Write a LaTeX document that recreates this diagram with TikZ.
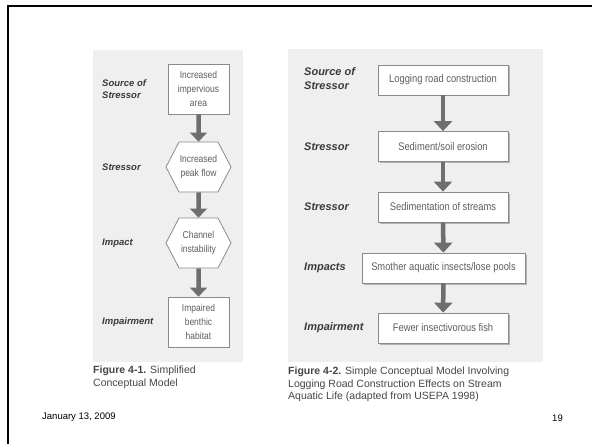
\documentclass[tikz,border=0pt]{standalone}
\usepackage{fontspec}
\setmainfont{Liberation Sans}
\newfontfamily\condfont[FakeStretch=0.85]{Liberation Sans}
\usetikzlibrary{arrows.meta,shapes.symbols,shadows}
\definecolor{panelgray}{HTML}{EFEFEF}
\definecolor{edgegray}{HTML}{8A8A8A}
\definecolor{arrowgray}{HTML}{6E6E6E}
\definecolor{textgray}{HTML}{5E5E5E}
\definecolor{labelgray}{HTML}{3A3A3A}
\definecolor{capgray}{HTML}{454545}

\tikzset{
    box/.style={draw=edgegray, fill=white, line width=0.8pt, align=center,
        inner sep=0pt, text=textgray, font=\condfont\fontsize{10}{14}\selectfont},
    hexbox/.style={box, signal, signal to=west and east, signal pointer angle=125},
    flatbox/.style={box, minimum height=30pt,
        drop shadow={shadow xshift=1.5pt, shadow yshift=-1.5pt, fill=black!45, opacity=0.6},
        font=\condfont\fontsize{11}{13}\selectfont},
    stage/.style={anchor=west, align=left, inner sep=0pt, text=labelgray,
        font=\bfseries\itshape\fontsize{9.5}{12}\selectfont},
    bigstage/.style={stage, font=\bfseries\itshape\fontsize{11}{14}\selectfont},
    caption/.style={anchor=north west, align=left, inner sep=0pt, text=capgray,
        font=\fontsize{10.5}{12.5}\selectfont},
    flow/.style={draw=arrowgray, line width=4.5pt, -{Triangle[width=17pt,length=9pt]}},
    bigflow/.style={flow, -{Triangle[width=18pt,length=10pt]}}
}

\begin{document}
\begin{tikzpicture}[x=1pt,y=-1pt]
        \useasboundingbox (0,0) rectangle (592,444);
        % slide frame
        \draw[line width=2pt] (8,444) -- (8,6) -- (592,6);
        % panels
        \fill[panelgray] (93,50) rectangle (243,362);
        \fill[panelgray] (288,49) rectangle (543,362);

        % Figure 4-1
        \node[box, minimum width=61pt, minimum height=50pt] (srcA) at (198.5,89)
            {Increased\\impervious\\area};
        \node[hexbox, minimum width=65pt, minimum height=50pt] (stressA) at (198.5,167)
            {Increased\\peak flow};
        \node[hexbox, minimum width=65pt, minimum height=50pt] (impactA) at (198.5,243)
            {Channel\\instability};
        \node[box, minimum width=61pt, minimum height=50pt] (impairA) at (198.5,322)
            {Impaired\\benthic\\habitat};
        \draw[flow] (srcA) -- (stressA);
        \draw[flow] (stressA) -- (impactA);
        \draw[flow] (impactA) -- (impairA);

        \node[stage] (srcAlbl) at (102,89) {Source of\\Stressor};
        \node[stage] (stressAlbl) at (102,167) {Stressor};
        \node[stage] (impactAlbl) at (102,243) {Impact};
        \node[stage] (impairAlbl) at (102,322) {Impairment};

        \node[caption] (capA) at (93,366)
            {{\bfseries Figure 4-1.} Simplified\\Conceptual Model};

        % Figure 4-2
        \node[flatbox, minimum width=130pt] (srcB) at (443,80)
            {Logging road construction};
        \node[flatbox, minimum width=130pt] (stressB) at (443,146.5)
            {Sediment/soil erosion};
        \node[flatbox, minimum width=130pt] (stressC) at (443,207)
            {Sedimentation of streams};
        \node[flatbox, minimum width=163pt] (impactB) at (443.5,268)
            {Smother aquatic insects/lose pools};
        \node[flatbox, minimum width=130pt] (impairB) at (443,328)
            {Fewer insectivorous fish};
        \draw[bigflow] (srcB) -- (stressB);
        \draw[bigflow] (stressB) -- (stressC);
        \draw[bigflow] (stressC) -- (impactB);
        \draw[bigflow] (impactB) -- (impairB);

        \node[bigstage] (srcBlbl) at (304,79) {Source of\\Stressor};
        \node[bigstage] (stressBlbl) at (304,146.5) {Stressor};
        \node[bigstage] (stressClbl) at (304,207) {Stressor};
        \node[bigstage] (impactBlbl) at (304,268) {Impacts};
        \node[bigstage] (impairBlbl) at (304,328) {Impairment};

        \node[caption] (capB) at (288,367)
            {{\bfseries Figure 4-2.} Simple Conceptual Model Involving\\
             Logging Road Construction Effects on Stream\\
             Aquatic Life (adapted from USEPA 1998)};

        % footer
        \node[anchor=west, inner sep=0pt, font=\fontsize{9.5}{11}\selectfont] (date)
            at (42,417) {January 13, 2009};
        \node[anchor=east, inner sep=0pt, font=\fontsize{9.5}{11}\selectfont] (page)
            at (563,418) {19};
\end{tikzpicture}
\end{document}
